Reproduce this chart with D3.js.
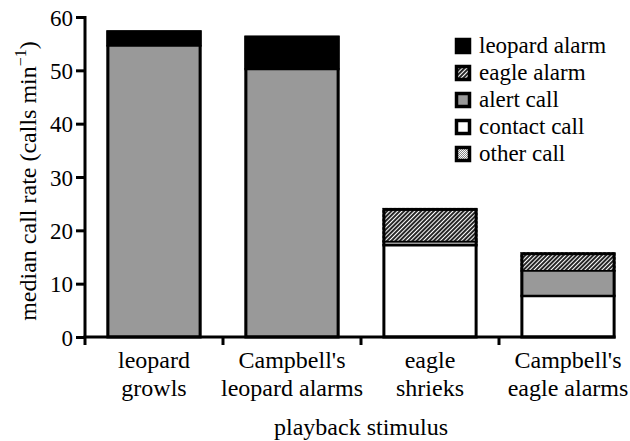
<!DOCTYPE html>
<html>
<head>
<meta charset="utf-8">
<script src="https://cdn.jsdelivr.net/npm/d3@7"></script>
<style>
  body { margin: 0; background: #fff; }
</style>
</head>
<body>
<script>
// Chart data
var categories = ["leopard growls", "Campbell's leopard alarms", "eagle shrieks", "Campbell's eagle alarms"];
var categoryLines = [["leopard", "growls"], ["Campbell's", "leopard alarms"], ["eagle", "shrieks"], ["Campbell's", "eagle alarms"]];
var contactCall  = [0, 0, 17.2, 7.7];
var alertCall    = [54.6, 50.2, 0.7, 4.7];
var eagleAlarm   = [0, 0, 6.3, 3.5];
var leopardAlarm = [2.9, 6.3, 0, 0];
var otherCall    = [0, 0, 0, 0];
var yTicks = [0, 10, 20, 30, 40, 50, 60];

// legend order (top to bottom) and stacking order (bottom to top)
var legendKeys = ["leopard alarm", "eagle alarm", "alert call", "contact call", "other call"];
var stackKeys = ["contact call", "alert call", "eagle alarm", "leopard alarm", "other call"];

var rows = categories.map(function(c, i) {
  return {
    cat: c,
    "contact call": contactCall[i],
    "alert call": alertCall[i],
    "eagle alarm": eagleAlarm[i],
    "leopard alarm": leopardAlarm[i],
    "other call": otherCall[i]
  };
});

var width = 630, height = 441;
var fontFam = "Liberation Serif";
var svg = d3.select("body").append("svg")
  .attr("width", width)
  .attr("height", height)
  .attr("font-family", fontFam);

// patterns
var defs = svg.append("defs");
var hatch = defs.append("pattern")
  .attr("id", "hatch")
  .attr("patternUnits", "userSpaceOnUse")
  .attr("width", 3).attr("height", 3)
  .attr("patternTransform", "rotate(45)");
hatch.append("rect").attr("width", 3).attr("height", 3).attr("fill", "#000");
hatch.append("line").attr("x1", 1.5).attr("y1", 0).attr("x2", 1.5).attr("y2", 3)
  .attr("stroke", "#fff").attr("stroke-width", 1.3);

var dots = defs.append("pattern")
  .attr("id", "dots")
  .attr("patternUnits", "userSpaceOnUse")
  .attr("width", 2).attr("height", 2);
dots.append("rect").attr("width", 2).attr("height", 2).attr("fill", "#fff");
dots.append("rect").attr("width", 1).attr("height", 1).attr("fill", "#888");
dots.append("rect").attr("x", 1).attr("y", 1).attr("width", 1).attr("height", 1).attr("fill", "#888");

var fills = {
  "leopard alarm": "#000",
  "eagle alarm": "url(#hatch)",
  "alert call": "#999",
  "contact call": "#fff",
  "other call": "url(#dots)"
};

// scales
var x = d3.scaleBand()
  .domain(categories)
  .range([85, 637])
  .paddingInner(0.31)
  .paddingOuter(0.155);

var y = d3.scaleLinear()
  .domain([0, 60])
  .range([337, 17]);

var stacked = d3.stack().keys(stackKeys)(rows);
function total(d) { return d3.sum(stackKeys, function(k) { return d[k]; }); }

var sw = 3;
var barGroup = svg.append("g");
// segment fills
stacked.forEach(function(layer) {
  barGroup.selectAll(null)
    .data(layer.filter(function(d) { return d[1] - d[0] > 0; }))
    .enter().append("rect")
    .attr("x", function(d) { return x(d.data.cat); })
    .attr("width", x.bandwidth())
    .attr("y", function(d) { return y(d[1]); })
    .attr("height", function(d) { return y(d[0]) - y(d[1]); })
    .attr("fill", fills[layer.key]);
});
// separators between white/gray/hatched segments
stacked.forEach(function(layer) {
  barGroup.selectAll(null)
    .data(layer.filter(function(d) {
      return d[1] - d[0] > 0 && d[1] < total(d.data) - 0.01 && layer.key !== "leopard alarm";
    }))
    .enter().append("line")
    .attr("x1", function(d) { return x(d.data.cat); })
    .attr("x2", function(d) { return x(d.data.cat) + x.bandwidth(); })
    .attr("y1", function(d) { return y(d[1]); })
    .attr("y2", function(d) { return y(d[1]); })
    .attr("stroke", "#000")
    .attr("stroke-width", layer.key === "contact call" ? 2.5 : 1.8);
});
// bar outlines
barGroup.selectAll(".outline")
  .data(rows)
  .enter().append("rect")
  .attr("class", "outline")
  .attr("x", function(d) { return x(d.cat) + sw / 2; })
  .attr("width", x.bandwidth() - sw)
  .attr("y", function(d) { return y(total(d)) + sw / 2; })
  .attr("height", function(d) { return y(0) - y(total(d)) - sw / 2; })
  .attr("fill", "none")
  .attr("stroke", "#000")
  .attr("stroke-width", sw);

// y axis
var yAxis = svg.append("g")
  .attr("transform", "translate(85,0)")
  .call(d3.axisLeft(y).tickValues(yTicks).tickSize(9).tickSizeOuter(0).tickPadding(3));
yAxis.attr("font-family", fontFam).attr("font-size", 23);
yAxis.select(".domain").attr("stroke-width", 3).attr("d", "M0," + (y(60) - 1) + "V" + (y(0) + 1));
yAxis.selectAll(".tick line").attr("stroke-width", 3);
yAxis.selectAll(".tick text").attr("fill", "#000").attr("dy", "0.36em");

// x axis: line ending at last bar, ticks at band boundaries
var xLeft = x.range()[0];
var xRight = x(categories[categories.length - 1]) + x.bandwidth();
svg.append("line")
  .attr("x1", xLeft - 1.5).attr("x2", xRight)
  .attr("y1", y(0)).attr("y2", y(0))
  .attr("stroke", "#000").attr("stroke-width", 3);

var boundaries = categories.map(function(c, i) { return xLeft + i * x.step(); });
svg.selectAll(".xtick")
  .data(boundaries)
  .enter().append("line")
  .attr("class", "xtick")
  .attr("x1", function(d) { return d; })
  .attr("x2", function(d) { return d; })
  .attr("y1", y(0)).attr("y2", y(0) + 8)
  .attr("stroke", "#000").attr("stroke-width", 3);

// category labels
categories.forEach(function(c, i) {
  var t = svg.append("text")
    .attr("text-anchor", "middle")
    .attr("font-size", 24);
  categoryLines[i].forEach(function(line, j) {
    t.append("tspan")
      .attr("x", x(c) + x.bandwidth() / 2)
      .attr("y", 368 + j * 28)
      .text(line);
  });
});

// axis titles
svg.append("text")
  .attr("x", 361).attr("y", 435)
  .attr("text-anchor", "middle")
  .attr("font-size", 24)
  .text("playback stimulus");

var yTitle = svg.append("text")
  .attr("transform", "translate(36,181) rotate(-90)")
  .attr("text-anchor", "middle")
  .attr("font-size", 24);
yTitle.append("tspan").text("median call rate (calls min");
yTitle.append("tspan").attr("dy", -10).attr("font-size", 16).text("\u22121");
yTitle.append("tspan").attr("dy", 10).text(")");

// legend
var legend = svg.append("g").attr("transform", "translate(455,38)");
var item = legend.selectAll("g")
  .data(legendKeys)
  .enter().append("g")
  .attr("transform", function(d, i) { return "translate(0," + (i * 27) + ")"; });
item.append("rect")
  .attr("x", 1.5).attr("y", 1.5)
  .attr("width", 13).attr("height", 13)
  .attr("fill", function(d) { return fills[d]; })
  .attr("stroke", "#000")
  .attr("stroke-width", 3.5);
item.append("text")
  .attr("x", 24).attr("y", 15)
  .attr("font-size", 23)
  .text(function(d) { return d; });
</script>
</body>
</html>
